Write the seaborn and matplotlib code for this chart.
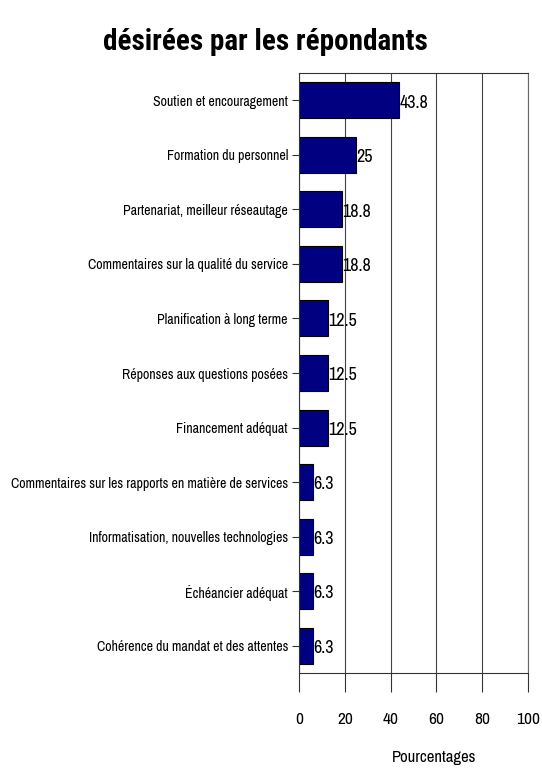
import matplotlib
matplotlib.use("Agg")
import matplotlib.pyplot as plt
import seaborn as sns
import pandas as pd

categories = [
    "Soutien et encouragement",
    "Formation du personnel",
    "Partenariat, meilleur réseautage",
    "Commentaires sur la qualité du service",
    "Planification à long terme",
    "Réponses aux questions posées",
    "Financement adéquat",
    "Commentaires sur les rapports en matière de services",
    "Informatisation, nouvelles technologies",
    "Échéancier adéquat",
    "Cohérence du mandat et des attentes",
]
values = [43.8, 25, 18.8, 18.8, 12.5, 12.5, 12.5, 6.3, 6.3, 6.3, 6.3]
value_labels = ["43.8", "25", "18.8", "18.8", "12.5", "12.5", "12.5", "6.3", "6.3", "6.3", "6.3"]
x_ticks = [0, 20, 40, 60, 80, 100]

sns.set_theme(style="white")
plt.rcParams["font.family"] = ["Archivo Narrow", "DejaVu Sans"]

df = pd.DataFrame({"cat": categories, "val": values})

fig = plt.figure(figsize=(5.42, 7.69), dpi=100)
ax = fig.add_axes([0.5517, 0.1248, 0.4225, 0.7802])

sns.barplot(data=df, x="val", y="cat", orient="h", color="#000080",
            saturation=1, edgecolor="black", linewidth=0.8, width=0.66, ax=ax)

ax.set_xlim(0, 100)
ax.set_ylim(10.5, -0.5)
ax.set_xticks(x_ticks)
ax.set_xticklabels([str(t) for t in x_ticks], fontsize=12.5)
ax.tick_params(axis="x", direction="out", length=14, width=0.8, color="#333333", pad=14)
ax.tick_params(axis="y", direction="out", length=5, width=0.8, color="#333333", labelsize=10, pad=3)
ax.tick_params(axis="both", bottom=True, left=True, labelcolor="black")
ax.xaxis.grid(True, color="#444444", linewidth=0.8)
ax.set_axisbelow(True)
for side in ["left", "bottom", "top"]:
    ax.spines[side].set_visible(True)
    ax.spines[side].set_color("#333333")
    ax.spines[side].set_linewidth(0.8)
ax.spines["right"].set_visible(True)
ax.spines["right"].set_color("#666666")
ax.spines["right"].set_linewidth(0.8)
ax.set_xlabel("")
ax.set_ylabel("")

for i, (v, lab) in enumerate(zip(values, value_labels)):
    ax.text(v, i + 0.04, lab, ha="left", va="center", fontsize=13, color="black")

fig.text(0.49, 0.935, "désirées par les répondants", ha="center", va="baseline",
         fontsize=21, fontweight="bold", color="black",
         family=["Roboto Condensed", "Encode Sans Condensed", "DejaVu Sans"])
fig.text(0.80, 1 - 762 / 769, "Pourcentages", ha="center", va="baseline",
         fontsize=12, color="black")

fig.savefig("out.png", dpi=100, facecolor="white")
